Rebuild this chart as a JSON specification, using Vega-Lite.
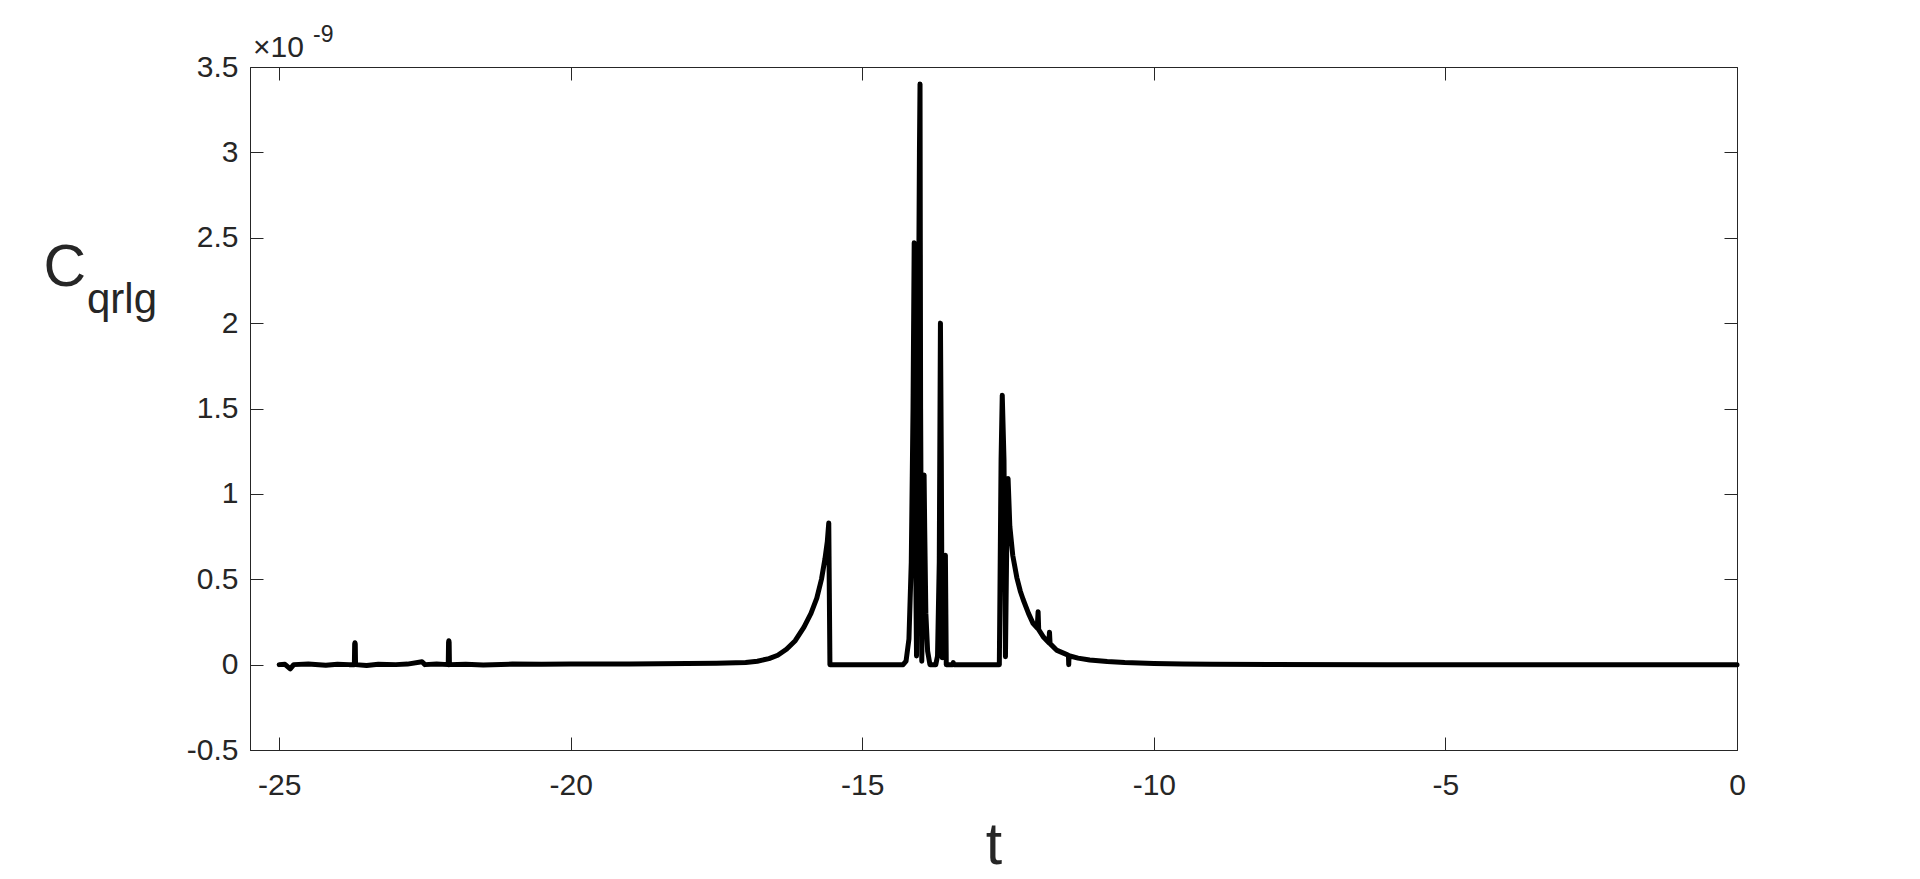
{
  "$schema": "https://vega.github.io/schema/vega-lite/v6.json",
  "autosize": "none",
  "width": 1487,
  "height": 683,
  "padding": {"left": 250, "top": 67, "right": 183, "bottom": 129},
  "background": "white",
  "config": {
    "font": "Liberation Sans",
    "view": {"stroke": "#262626", "strokeWidth": 1},
    "axis": {"grid": false, "labelFont": "Liberation Sans", "titleFont": "Liberation Sans", "labelColor": "#262626", "titleColor": "#262626", "tickColor": "#262626", "domainColor": "#262626", "tickWidth": 1, "domainWidth": 1, "titleFontWeight": "normal", "labelFlush": false, "labelOverlap": false}
  },
  "data": {
    "values": [
      {"t": -25.0, "c": 0.0}, {"t": -24.9, "c": 0.002}, {"t": -24.81, "c": -0.025}, {"t": -24.75, "c": 0.0},
      {"t": -24.5, "c": 0.003}, {"t": -24.2, "c": -0.004}, {"t": -24.0, "c": 0.002}, {"t": -23.8, "c": 0.0},
      {"t": -23.71, "c": 0.0}, {"t": -23.705, "c": 0.12}, {"t": -23.7, "c": 0.128}, {"t": -23.695, "c": 0.12}, {"t": -23.69, "c": 0.0},
      {"t": -23.5, "c": -0.005}, {"t": -23.3, "c": 0.002}, {"t": -23.0, "c": 0.0}, {"t": -22.8, "c": 0.003},
      {"t": -22.55, "c": 0.017}, {"t": -22.5, "c": 0.0}, {"t": -22.3, "c": 0.003},
      {"t": -22.1, "c": 0.0}, {"t": -22.095, "c": 0.13}, {"t": -22.09, "c": 0.14}, {"t": -22.085, "c": 0.13}, {"t": -22.08, "c": 0.0},
      {"t": -21.8, "c": 0.002}, {"t": -21.5, "c": -0.002}, {"t": -21.0, "c": 0.003}, {"t": -20.5, "c": 0.002},
      {"t": -20.0, "c": 0.003}, {"t": -19.5, "c": 0.003}, {"t": -19.0, "c": 0.004}, {"t": -18.5, "c": 0.005},
      {"t": -18.0, "c": 0.006}, {"t": -17.5, "c": 0.008}, {"t": -17.0, "c": 0.012}, {"t": -16.8, "c": 0.02},
      {"t": -16.6, "c": 0.035}, {"t": -16.45, "c": 0.055}, {"t": -16.3, "c": 0.09}, {"t": -16.15, "c": 0.14},
      {"t": -16.0, "c": 0.22}, {"t": -15.88, "c": 0.3}, {"t": -15.78, "c": 0.39}, {"t": -15.7, "c": 0.5},
      {"t": -15.64, "c": 0.62}, {"t": -15.6, "c": 0.72}, {"t": -15.575, "c": 0.83}, {"t": -15.555, "c": 0.0},
      {"t": -14.5, "c": 0.0}, {"t": -14.3, "c": 0.0}, {"t": -14.25, "c": 0.02}, {"t": -14.2, "c": 0.15},
      {"t": -14.16, "c": 0.6}, {"t": -14.13, "c": 1.5}, {"t": -14.11, "c": 2.47}, {"t": -14.09, "c": 0.8},
      {"t": -14.07, "c": 0.05}, {"t": -14.05, "c": 1.2}, {"t": -14.02, "c": 3.0}, {"t": -14.01, "c": 3.4},
      {"t": -14.0, "c": 1.5}, {"t": -13.98, "c": 0.02}, {"t": -13.96, "c": 0.6}, {"t": -13.94, "c": 1.11},
      {"t": -13.93, "c": 0.8}, {"t": -13.91, "c": 0.3}, {"t": -13.88, "c": 0.08}, {"t": -13.84, "c": 0.0},
      {"t": -13.74, "c": 0.0}, {"t": -13.71, "c": 0.05}, {"t": -13.68, "c": 0.6}, {"t": -13.66, "c": 2.0},
      {"t": -13.645, "c": 1.2}, {"t": -13.63, "c": 0.04}, {"t": -13.6, "c": 0.3}, {"t": -13.575, "c": 0.64},
      {"t": -13.56, "c": 0.0}, {"t": -13.45, "c": 0.0}, {"t": -13.44, "c": 0.012}, {"t": -13.43, "c": 0.0},
      {"t": -12.65, "c": 0.0}, {"t": -12.62, "c": 1.2}, {"t": -12.6, "c": 1.578}, {"t": -12.57, "c": 1.2},
      {"t": -12.545, "c": 0.046}, {"t": -12.52, "c": 0.8}, {"t": -12.5, "c": 1.09}, {"t": -12.47, "c": 0.81},
      {"t": -12.42, "c": 0.64}, {"t": -12.35, "c": 0.51}, {"t": -12.29, "c": 0.43}, {"t": -12.24, "c": 0.38},
      {"t": -12.15, "c": 0.3}, {"t": -12.07, "c": 0.24}, {"t": -12.0, "c": 0.215}, {"t": -11.985, "c": 0.31},
      {"t": -11.975, "c": 0.205}, {"t": -11.89, "c": 0.16}, {"t": -11.8, "c": 0.128}, {"t": -11.79, "c": 0.19},
      {"t": -11.78, "c": 0.123}, {"t": -11.67, "c": 0.085}, {"t": -11.5, "c": 0.06}, {"t": -11.465, "c": 0.055},
      {"t": -11.46, "c": 0.0}, {"t": -11.455, "c": 0.052}, {"t": -11.3, "c": 0.038}, {"t": -11.1, "c": 0.027},
      {"t": -10.8, "c": 0.018}, {"t": -10.5, "c": 0.012}, {"t": -10.0, "c": 0.007}, {"t": -9.5, "c": 0.004},
      {"t": -9.0, "c": 0.002}, {"t": -8.0, "c": 0.001}, {"t": -6.0, "c": 0.0}, {"t": 0.0, "c": 0.0}
    ]
  },
  "layer": [
    {
      "mark": {"type": "line", "color": "black", "strokeWidth": 5, "strokeJoin": "round", "strokeCap": "round"},
      "encoding": {
        "x": {"field": "t", "type": "quantitative", "scale": {"domain": [-25.5, 0], "nice": false, "zero": false},
          "axis": {"orient": "bottom", "values": [-25, -20, -15, -10, -5, 0], "labelExpr": "toString(datum.value)", "tickSize": -13, "labelFontSize": 30, "labelPadding": 33, "labelBaseline": "top", "title": "t", "titleFontSize": 59, "titleY": 113, "titleBaseline": "alphabetic"}},
        "y": {"field": "c", "type": "quantitative", "scale": {"domain": [-0.5, 3.5], "nice": false, "zero": false},
          "axis": {"orient": "left", "values": [-0.5, 0, 0.5, 1, 1.5, 2, 2.5, 3, 3.5], "labelExpr": "toString(datum.value)", "tickSize": -13, "labelFontSize": 30, "labelPadding": 25, "labelBaseline": "middle", "title": "C", "titleFontSize": 59, "titleAngle": 0, "titleAlign": "left", "titleBaseline": "alphabetic", "titleX": -207, "titleY": 218}},
        "order": {"value": null}
      }
    },
    {
      "mark": {"type": "line", "opacity": 0},
      "encoding": {
        "x": {"field": "t", "type": "quantitative", "scale": {"domain": [-25.5, 0], "nice": false, "zero": false},
          "axis": {"orient": "top", "values": [-25, -20, -15, -10, -5, 0], "labels": false, "domain": false, "tickSize": -13, "title": null}},
        "y": {"field": "c", "type": "quantitative", "scale": {"domain": [-0.5, 3.5], "nice": false, "zero": false},
          "axis": {"orient": "right", "values": [-0.5, 0, 0.5, 1, 1.5, 2, 2.5, 3, 3.5], "labels": false, "domain": false, "tickSize": -13, "title": null}},
        "order": {"value": null}
      }
    },
    {
      "data": {"values": [{"t": -25.5, "c": 3.5, "txt": "×10"}]},
      "mark": {"type": "text", "align": "left", "baseline": "alphabetic", "dx": 3, "dy": -10, "fontSize": 30, "color": "#262626", "font": "Liberation Sans"},
      "encoding": {
        "x": {"field": "t", "type": "quantitative", "scale": {"domain": [-25.5, 0], "nice": false, "zero": false}, "axis": null},
        "y": {"field": "c", "type": "quantitative", "scale": {"domain": [-0.5, 3.5], "nice": false, "zero": false}, "axis": null},
        "text": {"field": "txt"}
      }
    },
    {
      "data": {"values": [{"t": -25.5, "c": 3.5, "txt": "-9"}]},
      "mark": {"type": "text", "align": "left", "baseline": "alphabetic", "dx": 63, "dy": -25, "fontSize": 23, "color": "#262626", "font": "Liberation Sans"},
      "encoding": {
        "x": {"field": "t", "type": "quantitative", "scale": {"domain": [-25.5, 0], "nice": false, "zero": false}, "axis": null},
        "y": {"field": "c", "type": "quantitative", "scale": {"domain": [-0.5, 3.5], "nice": false, "zero": false}, "axis": null},
        "text": {"field": "txt"}
      }
    },
    {
      "data": {"values": [{"t": -28.295, "c": 2.059, "txt": "qrlg"}]},
      "mark": {"type": "text", "align": "left", "baseline": "alphabetic", "fontSize": 42, "color": "#262626", "font": "Liberation Sans", "clip": false},
      "encoding": {
        "x": {"field": "t", "type": "quantitative", "scale": {"domain": [-25.5, 0], "nice": false, "zero": false}, "axis": null},
        "y": {"field": "c", "type": "quantitative", "scale": {"domain": [-0.5, 3.5], "nice": false, "zero": false}, "axis": null},
        "text": {"field": "txt"}
      }
    }
  ],
  "resolve": {"axis": {"x": "independent", "y": "independent"}}
}
